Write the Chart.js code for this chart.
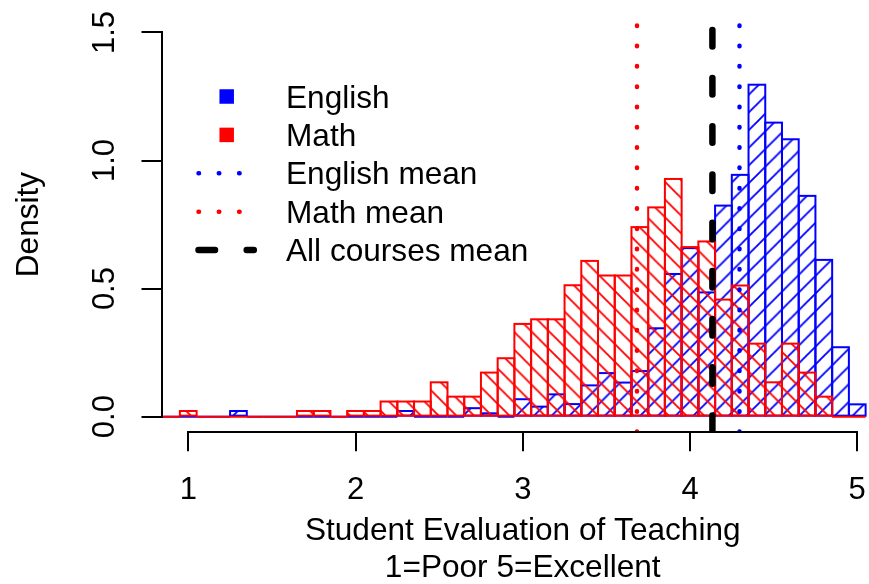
<!DOCTYPE html>
<html>
<head>
<meta charset="utf-8">
<script src="https://cdn.jsdelivr.net/npm/chart.js@4.4.1/dist/chart.umd.min.js"></script>
<style>
html,body{margin:0;padding:0;background:#ffffff;overflow:hidden}
#wrap{width:869px;height:584px;position:relative;overflow:hidden}
#c{display:block}
</style>
</head>
<body>
<div id="wrap"><canvas id="c" width="884" height="584"></canvas></div>
<script>
// ---- data ----
const binCenters = [0.9, 1.0, 1.1, 1.2, 1.3, 1.4, 1.5, 1.6, 1.7, 1.8, 1.9,
                    2.0, 2.1, 2.2, 2.3, 2.4, 2.5, 2.6, 2.7, 2.8, 2.9,
                    3.0, 3.1, 3.2, 3.3, 3.4, 3.5, 3.6, 3.7, 3.8, 3.9,
                    4.0, 4.1, 4.2, 4.3, 4.4, 4.5, 4.6, 4.7, 4.8, 4.9, 5.0];
const mathDensity = [0, 0.022, 0, 0, 0, 0, 0, 0, 0.022, 0.022, 0,
                     0.022, 0.022, 0.059, 0.059, 0.059, 0.134, 0.078, 0.078, 0.172, 0.228,
                     0.362, 0.380, 0.380, 0.513, 0.608, 0.551, 0.551, 0.740, 0.817, 0.928,
                     0.662, 0.684, 0.457, 0.512, 0.285, 0.134, 0.285, 0.172, 0.078, 0, 0];
const englishDensity = [0, 0, 0, 0, 0.022, 0, 0, 0, 0, 0, 0,
                        0, 0, 0, 0.022, 0, 0, 0, 0.033, 0.013, 0,
                        0.068, 0.039, 0.087, 0.049, 0.122, 0.170, 0.133, 0.178, 0.345, 0.557,
                        0.658, 0.485, 0.824, 0.944, 1.296, 1.148, 1.083, 0.862, 0.612, 0.271, 0.048];
const englishMean = 4.296;
const mathMean = 3.683;
const allCoursesMean = 4.134;
const xTicks = [1, 2, 3, 4, 5];
const xTickLabels = ['1', '2', '3', '4', '5'];
const yTicks = [0, 0.5, 1.0, 1.5];
const yTickLabels = ['0.0', '0.5', '1.0', '1.5'];
const xLimits = [0.84, 5.16];
const yLimits = [-0.06, 1.56];
const legendLabels = ['English', 'Math', 'English mean', 'Math mean', 'All courses mean'];
const xTitleLines = ['Student Evaluation of Teaching', '1=Poor 5=Excellent'];
const yTitleText = 'Density';

// ---- styling ----
const FONT = '"Liberation Sans", Arial, Helvetica, sans-serif';
const FS = 31;
const FST = 31.6;
const BLUE = '#0000FF', RED = '#FF0000';

function hatch(color, dir, spacing, offset) {
  const s = 18;
  const c = document.createElement('canvas');
  c.width = s; c.height = s;
  const g = c.getContext('2d');
  g.strokeStyle = color; g.lineWidth = 1.9;
  g.beginPath();
  for (let k = -1; k <= 1; k++) {
    if (dir === '/') { g.moveTo(k * s - 3, s + 3); g.lineTo(k * s + s + 3, -3); }
    else { g.moveTo(k * s - 3, -3); g.lineTo(k * s + s + 3, s + 3); }
  }
  g.stroke();
  const p = g.createPattern(c, 'repeat');
  const sc = spacing / s;
  p.setTransform(new DOMMatrix().translate(offset, 0).scale(sc));
  return p;
}

function vline(v) { return [{x: v, y: yLimits[0]}, {x: v, y: yLimits[1]}]; }

const barOutline = {
  id: 'barOutline',
  afterDatasetDraw(chart, args) {
    const meta = args.meta;
    if (meta.type !== 'bar') return;
    const ds = chart.data.datasets[args.index];
    const ctx = chart.ctx, a = chart.chartArea;
    ctx.save();
    ctx.beginPath(); ctx.rect(a.left, a.top, a.right - a.left, a.bottom - a.top); ctx.clip();
    ctx.strokeStyle = ds.borderColor; ctx.lineWidth = 2;
    meta.data.forEach(el => {
      const p = el.getProps(['x', 'y', 'base', 'width'], true);
      ctx.strokeRect(p.x - p.width / 2, Math.min(p.y, p.base), p.width, Math.abs(p.base - p.y));
    });
    ctx.restore();
  }
};

const axisLines = {
  id: 'axisLines',
  afterDraw(chart) {
    const ctx = chart.ctx, a = chart.chartArea, xs = chart.scales.x, ys = chart.scales.y;
    ctx.save();
    ctx.strokeStyle = '#000'; ctx.lineWidth = 2; ctx.lineCap = 'butt';
    ctx.beginPath();
    ctx.moveTo(Math.round(xs.getPixelForValue(xTicks[0])) - 1, Math.round(a.bottom));
    ctx.lineTo(Math.round(xs.getPixelForValue(xTicks[xTicks.length - 1])) + 1, Math.round(a.bottom));
    ctx.moveTo(Math.round(a.left), Math.round(ys.getPixelForValue(yTicks[0])) + 1);
    ctx.lineTo(Math.round(a.left), Math.round(ys.getPixelForValue(yTicks[yTicks.length - 1])) - 1);
    ctx.stroke();
    ctx.restore();
  }
};

const legendBox = {
  id: 'legendBox',
  afterDraw(chart) {
    const ctx = chart.ctx;
    const x0 = 198.5, x1 = 253.8, sq = 14.5, sqX = 226.7, textX = 286;
    const rowY = [96.5, 134.9, 173.3, 211.7, 250.1];
    const kinds = [
      {t: 'sq', c: BLUE}, {t: 'sq', c: RED},
      {t: 'dot', c: BLUE}, {t: 'dot', c: RED}, {t: 'dash', c: '#000'}
    ];
    ctx.save();
    kinds.forEach((k, i) => {
      const y = rowY[i];
      if (k.t === 'sq') {
        ctx.fillStyle = k.c;
        ctx.fillRect(sqX - sq / 2, y - sq / 2, sq, sq);
      } else {
        ctx.strokeStyle = k.c; ctx.lineCap = 'round';
        if (k.t === 'dot') { ctx.lineWidth = 4.5; ctx.setLineDash([0.5, 19.8]); }
        else { ctx.lineWidth = 6.5; ctx.setLineDash([16.5, 31.7]); }
        ctx.beginPath(); ctx.moveTo(x0, y); ctx.lineTo(x1, y); ctx.stroke();
        ctx.setLineDash([]);
      }
      ctx.fillStyle = '#000';
      ctx.font = FST + 'px ' + FONT;
      ctx.textAlign = 'left'; ctx.textBaseline = 'middle';
      ctx.fillText(legendLabels[i], textX, y + 2.3);
    });
    ctx.restore();
  }
};

Chart.defaults.font.family = FONT;
Chart.defaults.font.size = FS;
Chart.defaults.color = '#000';

new Chart(document.getElementById('c').getContext('2d'), {
  type: 'bar',
  data: {
    datasets: [
      {type: 'line', label: legendLabels[2], data: vline(englishMean), borderColor: BLUE, borderWidth: 4.5,
       borderDash: [0.5, 19.8], borderCapStyle: 'round', pointRadius: 0, fill: false, order: 0, clip: 0},
      {type: 'line', label: legendLabels[3], data: vline(mathMean), borderColor: RED, borderWidth: 4.5,
       borderDash: [0.5, 19.8], borderCapStyle: 'round', pointRadius: 0, fill: false, order: 0, clip: 0},
      {type: 'line', label: legendLabels[4], data: vline(allCoursesMean), borderColor: '#000', borderWidth: 6.5,
       borderDash: [16.5, 31.7], borderCapStyle: 'round', pointRadius: 0, fill: false, order: 0, clip: 0},
      {label: legendLabels[1], data: binCenters.map((x, i) => ({x: x, y: mathDensity[i]})),
       backgroundColor: hatch(RED, '\\', 17.7, 5.3), borderColor: RED, borderWidth: 0,
       grouped: false, barPercentage: 1, categoryPercentage: 1, order: 1},
      {label: legendLabels[0], data: binCenters.map((x, i) => ({x: x, y: englishDensity[i]})),
       backgroundColor: hatch(BLUE, '/', 17.7, 11.6), borderColor: BLUE, borderWidth: 0,
       grouped: false, barPercentage: 1, categoryPercentage: 1, order: 2}
    ]
  },
  options: {
    responsive: false, animation: false, devicePixelRatio: 1,
    layout: {padding: {top: 17.1, left: 0, right: 0, bottom: 0}},
    plugins: {legend: {display: false}, tooltip: {enabled: false}, title: {display: false}},
    scales: {
      x: {
        type: 'linear', position: 'bottom', min: xLimits[0], max: xLimits[1], bounds: 'data',
        offset: false,
        afterBuildTicks: s => { s.ticks = xTicks.map(v => ({value: v})); },
        afterFit: s => { s.height = 152; s.paddingLeft = 0; s.paddingRight = 0; },
        grid: {display: true, offset: false, drawOnChartArea: false, drawTicks: true, tickLength: 19.3, color: '#000', lineWidth: 2},
        border: {display: false},
        ticks: {autoSkip: false, maxRotation: 0, minRotation: 0, padding: 21, color: '#000',
                font: {size: FS}, callback: v => xTickLabels[xTicks.indexOf(v)]},
        title: {display: true, text: xTitleLines, color: '#000', font: {size: FST, lineHeight: 1.15},
                padding: {top: 0, bottom: -2}}
      },
      y: {
        type: 'linear', position: 'left', min: yLimits[0], max: yLimits[1], bounds: 'data',
        offset: false,
        afterBuildTicks: s => { s.ticks = yTicks.map(v => ({value: v})); },
        afterFit: s => { s.width = 161.5; s.paddingTop = 0; s.paddingBottom = 0; },
        grid: {display: true, offset: false, drawOnChartArea: false, drawTicks: true, tickLength: 20, color: '#000', lineWidth: 2},
        border: {display: false},
        ticks: {autoSkip: false, minRotation: 90, maxRotation: 90, crossAlign: 'center', padding: 14.5,
                color: '#000', font: {size: FS}, callback: v => yTickLabels[yTicks.indexOf(v)]},
        title: {display: true, text: yTitleText, color: '#000', font: {size: FST, lineHeight: 1.2},
                padding: {top: 10.5, bottom: 0}}
      }
    }
  },
  plugins: [barOutline, axisLines, legendBox]
});
</script>
</body>
</html>
